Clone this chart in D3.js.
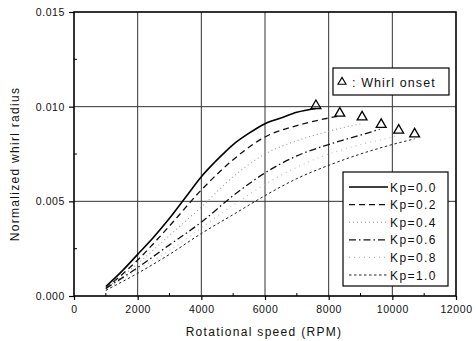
<!DOCTYPE html>
<html>
<head>
<meta charset="utf-8">
<script src="https://cdn.jsdelivr.net/npm/d3@7"></script>
<style>
  body { margin: 0; background: #fff; }
  svg { font-family: "Liberation Sans", Arial, sans-serif; }
</style>
</head>
<body>
<svg width="476" height="341"></svg>
<script>
const svg = d3.select("svg");

// *** DATA ***
const kpLabels = ["Kp=0.0", "Kp=0.2", "Kp=0.4", "Kp=0.6", "Kp=0.8", "Kp=1.0"];
const rpm00 = [1000, 1500, 2000, 2500, 3000, 3500, 4000, 4500, 5000, 5500, 6000, 6500, 7000, 7600];
const val00 = [0.0005, 0.0013, 0.0022, 0.0031, 0.0041, 0.0052, 0.0063, 0.0072, 0.0080, 0.0086, 0.0091, 0.0094, 0.0097, 0.0099];
const rpm02 = [1000, 2000, 3000, 4000, 5000, 6000, 7000, 8000, 8300];
const val02 = [0.0004, 0.0019, 0.0037, 0.0056, 0.0072, 0.0084, 0.0090, 0.0094, 0.0095];
const rpm04 = [1000, 2000, 3000, 4000, 5000, 6000, 7000, 8000, 9000];
const val04 = [0.0004, 0.0017, 0.0032, 0.0047, 0.0063, 0.0075, 0.0082, 0.0087, 0.0091];
const rpm06 = [1000, 2000, 3000, 4000, 5000, 6000, 7000, 8000, 9000, 9600];
const val06 = [0.0004, 0.0015, 0.0027, 0.0039, 0.0053, 0.0065, 0.0074, 0.0080, 0.0085, 0.0088];
const rpm08 = [1000, 2000, 3000, 4000, 5000, 6000, 7000, 8000, 9000, 10000, 10200];
const val08 = [0.0003, 0.0014, 0.0024, 0.0036, 0.0048, 0.0059, 0.0068, 0.0075, 0.0080, 0.0084, 0.0085];
const rpm10 = [1000, 2000, 3000, 4000, 5000, 6000, 7000, 8000, 9000, 10000, 10700];
const val10 = [0.0003, 0.0012, 0.0022, 0.0033, 0.0043, 0.0053, 0.0062, 0.0069, 0.0075, 0.0080, 0.0083];
// whirl onset markers
const onsetRpm = [7600, 8350, 9050, 9650, 10200, 10700];
const onsetVal = [0.0100, 0.0096, 0.0094, 0.0090, 0.0087, 0.0085];

const xTicks = [0, 2000, 4000, 6000, 8000, 10000, 12000];
const yTicks = [0.000, 0.005, 0.010, 0.015];

const series = [
  {rpm: rpm00, val: val00},
  {rpm: rpm02, val: val02},
  {rpm: rpm04, val: val04},
  {rpm: rpm06, val: val06},
  {rpm: rpm08, val: val08},
  {rpm: rpm10, val: val10}
];

// line styles per Kp
const styles = [
  {color: "#000", width: 1.6, dash: null},
  {color: "#111", width: 1.3, dash: "6,4"},
  {color: "#999", width: 1.1, dash: "1,3"},
  {color: "#111", width: 1.3, dash: "7,3,1.5,3"},
  {color: "#bbb", width: 1.1, dash: "1,4"},
  {color: "#222", width: 1.0, dash: "2.5,2.5"}
];

const x = d3.scaleLinear().domain([0, 12000]).range([74, 456]);
const y = d3.scaleLinear().domain([0, 0.015]).range([296, 12]);

// grid
const grid = svg.append("g");
grid.selectAll(".gx").data(xTicks.slice(1, -1)).enter().append("line")
  .attr("x1", d => x(d)).attr("x2", d => x(d))
  .attr("y1", y(0)).attr("y2", y(0.015))
  .attr("stroke", "#333").attr("stroke-width", 1);
grid.selectAll(".gy").data(yTicks.slice(1, -1)).enter().append("line")
  .attr("x1", x(0)).attr("x2", x(12000))
  .attr("y1", d => y(d)).attr("y2", d => y(d))
  .attr("stroke", "#333").attr("stroke-width", 1);

// axes
const xAxis = svg.append("g")
  .attr("transform", `translate(0,${y(0)})`)
  .call(d3.axisBottom(x).tickValues(xTicks).tickSize(4).tickPadding(6).tickFormat(d3.format("d")));
const yAxis = svg.append("g")
  .attr("transform", `translate(${x(0)},0)`)
  .call(d3.axisLeft(y).tickValues(yTicks).tickSize(5).tickPadding(4).tickFormat(d3.format(".3f")));
[xAxis, yAxis].forEach(a => {
  a.select(".domain").remove();
  a.selectAll("text").attr("font-size", 10.5).attr("letter-spacing", 0.6).attr("fill", "#111");
  a.selectAll(".tick line").attr("stroke", "#000").attr("stroke-width", 1.2);
});

// minor ticks (inward)
const xMinor = d3.range(1000, 12000, 2000);
svg.append("g").selectAll("line").data(xMinor).enter().append("line")
  .attr("x1", d => x(d)).attr("x2", d => x(d))
  .attr("y1", y(0)).attr("y2", y(0) - 3)
  .attr("stroke", "#000").attr("stroke-width", 1);
const yMinor = [0.0025, 0.0075, 0.0125];
svg.append("g").selectAll("line").data(yMinor).enter().append("line")
  .attr("x1", x(0)).attr("x2", x(0) + 3)
  .attr("y1", d => y(d)).attr("y2", d => y(d))
  .attr("stroke", "#000").attr("stroke-width", 1);

// frame
svg.append("rect")
  .attr("x", x(0)).attr("y", y(0.015))
  .attr("width", x(12000) - x(0)).attr("height", y(0) - y(0.015))
  .attr("fill", "none").attr("stroke", "#000").attr("stroke-width", 1.6);

// curves
const line = d3.line()
  .x(d => x(d[0])).y(d => y(d[1]))
  .curve(d3.curveMonotoneX);
series.forEach((s, i) => {
  svg.append("path")
    .datum(s.rpm.map((r, j) => [r, s.val[j]]))
    .attr("d", line)
    .attr("fill", "none")
    .attr("stroke", styles[i].color)
    .attr("stroke-width", styles[i].width)
    .attr("stroke-dasharray", styles[i].dash);
});

// onset triangles
const tri = d3.symbol().type(d3.symbolTriangle).size(42);
svg.append("g").selectAll("path").data(onsetRpm).enter().append("path")
  .attr("d", tri)
  .attr("transform", (d, i) => `translate(${x(d)},${y(onsetVal[i]) - 1})`)
  .attr("fill", "none").attr("stroke", "#000").attr("stroke-width", 1.3);

// whirl onset box
const wb = svg.append("g");
wb.append("rect").attr("x", 333).attr("y", 68).attr("width", 116).attr("height", 27)
  .attr("fill", "#fff").attr("stroke", "#000").attr("stroke-width", 1.2);
wb.append("path").attr("d", d3.symbol().type(d3.symbolTriangle).size(28)())
  .attr("transform", "translate(342,82)")
  .attr("fill", "none").attr("stroke", "#000").attr("stroke-width", 1.1);
wb.append("text").attr("x", 352).attr("y", 86.5)
  .attr("font-size", 12.5).attr("letter-spacing", 1.1).attr("fill", "#111")
  .text(": Whirl onset");

// legend
const lg = svg.append("g");
lg.append("rect").attr("x", 343).attr("y", 172).attr("width", 105).attr("height", 114)
  .attr("fill", "#fff").attr("stroke", "#000").attr("stroke-width", 1.2);
kpLabels.forEach((lab, i) => {
  const yy = 187 + i * 17.6;
  lg.append("line").attr("x1", 349).attr("x2", 388).attr("y1", yy).attr("y2", yy)
    .attr("stroke", styles[i].color).attr("stroke-width", styles[i].width)
    .attr("stroke-dasharray", styles[i].dash);
  lg.append("text").attr("x", 390).attr("y", yy + 4.5)
    .attr("font-size", 12).attr("letter-spacing", 1.4).attr("fill", "#111")
    .text(lab);
});

// axis titles
svg.append("text").attr("x", 264).attr("y", 336)
  .attr("text-anchor", "middle").attr("font-size", 12).attr("letter-spacing", 1.3).attr("fill", "#111")
  .text("Rotational speed (RPM)");
svg.append("text").attr("transform", "translate(19,164) rotate(-90)")
  .attr("text-anchor", "middle").attr("font-size", 12).attr("letter-spacing", 1.3).attr("fill", "#111")
  .text("Normalized whirl radius");
</script>
</body>
</html>
